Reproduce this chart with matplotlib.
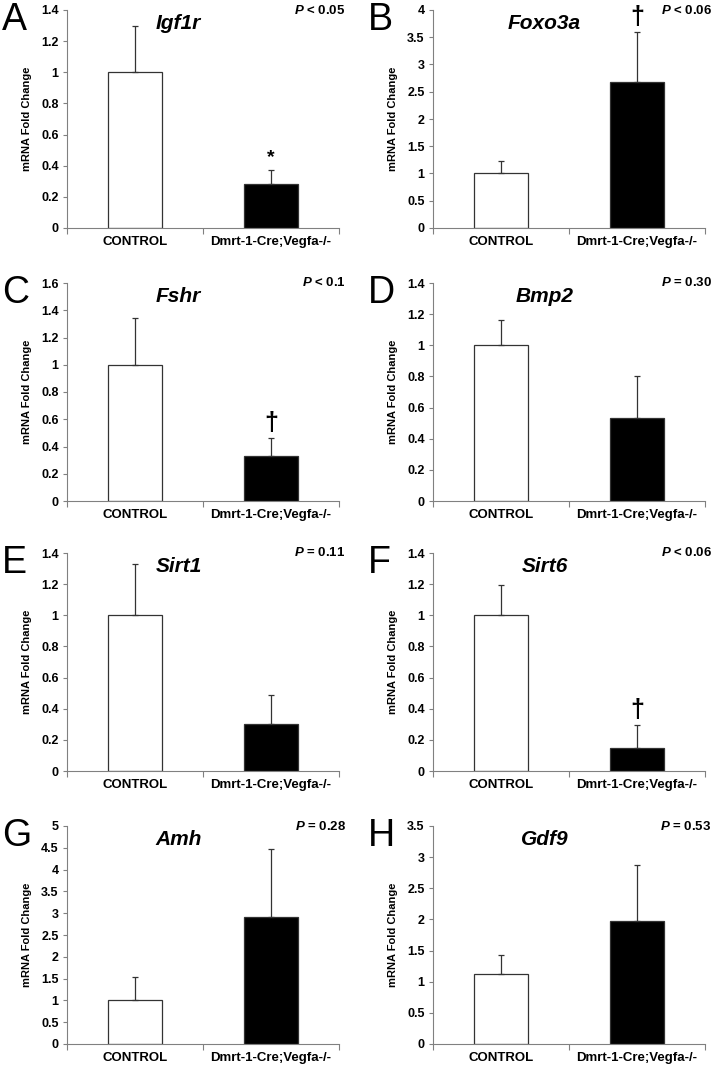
import matplotlib
matplotlib.use("Agg")
import matplotlib.pyplot as plt

plt.rcParams['font.family'] = ['Liberation Sans', 'DejaVu Sans']
plt.rcParams['mathtext.fontset'] = 'custom'
plt.rcParams['mathtext.it'] = 'Liberation Sans:italic:bold'

letters = ["A", "B", "C", "D", "E", "F", "G", "H"]
genes = ["Igf1r", "Foxo3a", "Fshr", "Bmp2", "Sirt1", "Sirt6", "Amh", "Gdf9"]
groups = ["CONTROL", "Dmrt-1-Cre;Vegfa-/-"]
ctrl_mean = [1.0, 1.0, 1.0, 1.0, 1.0, 1.0, 1.0, 1.12]
ctrl_err = [0.30, 0.23, 0.34, 0.165, 0.33, 0.195, 0.54, 0.31]
ko_mean = [0.28, 2.67, 0.33, 0.53, 0.30, 0.15, 2.92, 1.97]
ko_err = [0.095, 0.92, 0.13, 0.275, 0.185, 0.145, 1.56, 0.91]
ymax = [1.4, 4, 1.6, 1.4, 1.4, 1.4, 5, 3.5]
ystep = [0.2, 0.5, 0.2, 0.2, 0.2, 0.2, 0.5, 0.5]
pvals = ["< 0.05", "< 0.06", "< 0.1", "= 0.30", "= 0.11", "< 0.06", "= 0.28", "= 0.53"]
marks = ["*", "\u2020", "\u2020", "", "", "\u2020", "", ""]

W, H = 712, 1065
fig = plt.figure(figsize=(W / 100, H / 100), dpi=100)

col_left = [67, 433]
row_top = [10, 283, 553, 826]
ax_w, ax_h = 272, 218
grey = "#808080"

for i in range(8):
    r, c = i // 2, i % 2
    left = col_left[c]
    top = row_top[r]
    ax = fig.add_axes([left / W, 1 - (top + ax_h) / H, ax_w / W, ax_h / H])

    x = [0.5, 1.5]
    means = [ctrl_mean[i], ko_mean[i]]
    errs = [[0, 0], [ctrl_err[i], ko_err[i]]]
    ax.bar(x, means, width=0.4, color=["white", "black"], edgecolor="#333333",
           linewidth=0.9, zorder=2)
    ax.errorbar(x, means, yerr=errs, fmt="none", ecolor="#333333",
                elinewidth=0.9, capsize=2.5, capthick=0.9, zorder=3)

    ax.set_xlim(0, 2)
    ax.set_ylim(0, ymax[i])
    n = int(round(ymax[i] / ystep[i]))
    ticks = [k * ystep[i] for k in range(n + 1)]
    ax.set_yticks(ticks)
    ax.set_yticklabels(["%g" % round(t, 2) for t in ticks])
    ax.set_xticks(x)
    ax.set_xticklabels(groups)
    ax.set_xticks([0, 1, 2], minor=True)
    ax.tick_params(axis="x", which="major", length=0, pad=6)
    ax.tick_params(axis="x", which="minor", length=4, color=grey, width=0.8)
    ax.tick_params(axis="y", length=3, color=grey, width=0.8, pad=3)
    for lab in ax.get_xticklabels():
        lab.set_fontweight("bold")
        lab.set_fontsize(9.5)
    for lab in ax.get_yticklabels():
        lab.set_fontweight("bold")
        lab.set_fontsize(9)

    for s in ["top", "right"]:
        ax.spines[s].set_visible(False)
    for s in ["left", "bottom"]:
        ax.spines[s].set_color(grey)
        ax.spines[s].set_linewidth(0.8)

    ax.set_ylabel("mRNA Fold Change", fontsize=8, fontweight="bold")
    ax.yaxis.set_label_coords(-35 / ax_w, 0.5)

    ax.text(0.41, 0.94, genes[i], transform=ax.transAxes, ha="center",
            va="center", fontsize=15, fontweight="bold", fontstyle="italic")
    ax.text(1.025, 1.0, "$\\it{P}$ " + pvals[i], transform=ax.transAxes,
            ha="right", va="center", fontsize=9.5, fontweight="bold")

    if marks[i]:
        top_val = ko_mean[i] + ko_err[i]
        ax.text(1.5, top_val + ymax[i] * 0.015, marks[i], ha="center",
                va="bottom", fontsize=18 if marks[i] != "*" else 14,
                fontweight="bold")

    fig.text((left - 65) / W, 1 - (top - 8) / H, letters[i], ha="left",
             va="top", fontsize=27)

fig.savefig("out.png", dpi=100)
